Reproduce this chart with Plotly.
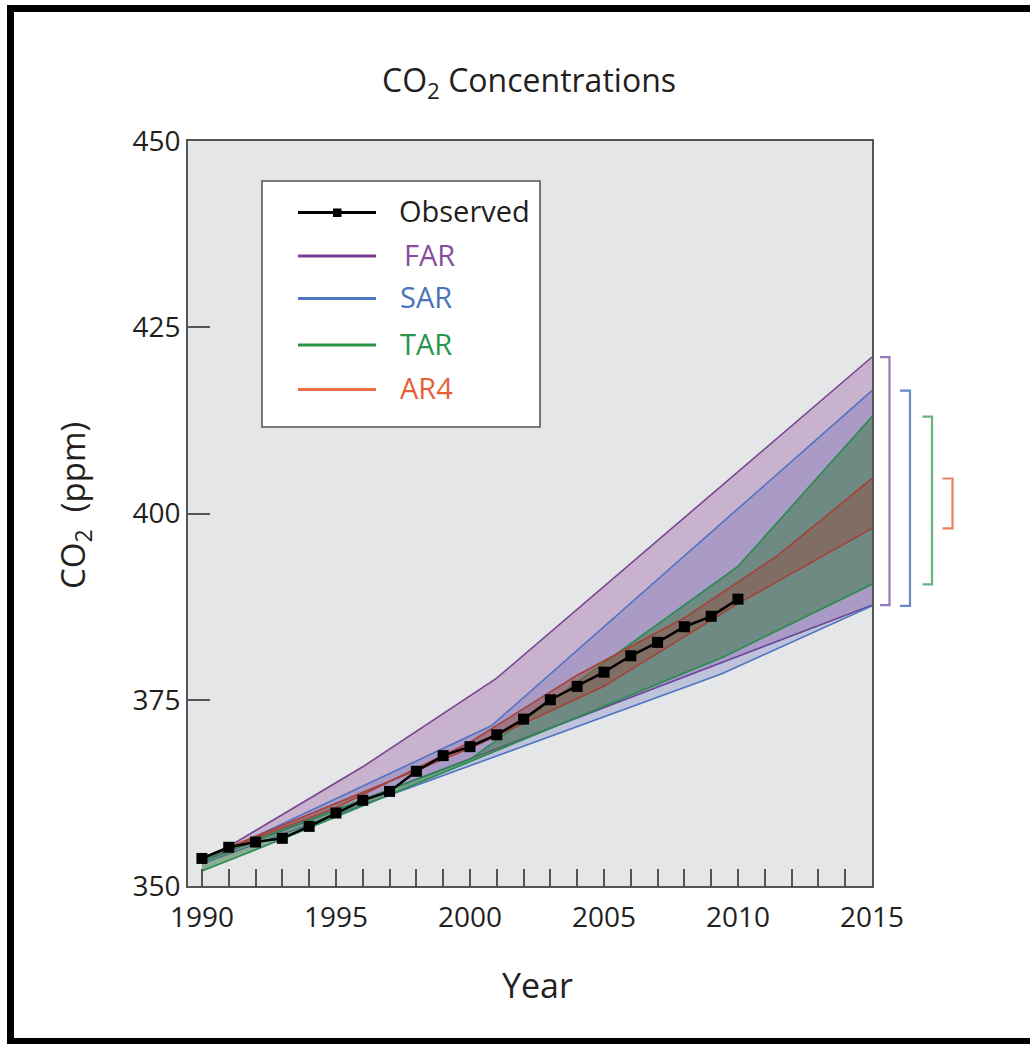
import plotly.graph_objects as go

# Observed annual mean CO2 (ppm)
obs_years = list(range(1990, 2011))
obs_co2 = [353.7, 355.2, 355.9, 356.4, 358.0, 359.8, 361.5, 362.7, 365.4, 367.5, 368.7,
           370.3, 372.4, 375.0, 376.8, 378.7, 380.9, 382.7, 384.8, 386.2, 388.5]

# Projected ranges from the four assessment reports (upper / lower envelopes)
far_up_x = [1990, 1991, 1996, 2001, 2015]
far_up = [353.7, 355.3, 366.0, 377.9, 421.0]
far_lo_x = [1990, 2015]
far_lo = [353.3, 387.7]

sar_up_x = [1990, 2000.8, 2015]
sar_up = [353.3, 371.5, 416.5]
sar_lo_x = [1990, 2009.4, 2015]
sar_lo = [353.0, 378.5, 387.6]

tar_up_x = [1990, 2000, 2010, 2015]
tar_up = [353.5, 367.0, 392.9, 413.0]
tar_lo_x = [1990, 1993, 2009.5, 2015]
tar_lo = [352.0, 356.3, 380.8, 390.5]

ar4_up_x = [1990, 1995, 2000, 2004, 2008, 2011.5, 2015]
ar4_up = [353.7, 360.5, 369.3, 378.3, 386.0, 394.4, 404.7]
ar4_lo_x = [1990, 2000, 2005, 2008, 2010, 2015]
ar4_lo = [353.7, 368.5, 376.8, 383.5, 387.9, 398.0]

report_names = ["FAR", "SAR", "TAR", "AR4"]

FONT = "Open Sans"
TXT = "#231f20"

bands = [
    dict(name="FAR", ux=far_up_x, uy=far_up, lx=far_lo_x, ly=far_lo,
         fill="rgba(160,100,170,0.40)", line="rgb(120,70,145)",
         key="rgb(125,60,150)", text="rgb(135,75,160)", bracket="rgb(155,120,185)", bx=(880, 889.5)),
    dict(name="SAR", ux=sar_up_x, uy=sar_up, lx=sar_lo_x, ly=sar_lo,
         fill="rgba(55,70,175,0.22)", line="rgb(80,115,195)",
         key="rgb(80,120,190)", text="rgb(75,115,185)", bracket="rgb(105,135,205)", bx=(900, 910)),
    dict(name="TAR", ux=tar_up_x, uy=tar_up, lx=tar_lo_x, ly=tar_lo,
         fill="rgba(64,124,76,0.55)", line="rgb(40,140,80)",
         key="rgb(40,150,70)", text="rgb(40,150,75)", bracket="rgb(105,180,125)", bx=(922.5, 932)),
    dict(name="AR4", ux=ar4_up_x, uy=ar4_up, lx=ar4_lo_x, ly=ar4_lo,
         fill="rgba(145,82,68,0.50)", line="rgb(165,65,55)",
         key="rgb(235,110,70)", text="rgb(230,95,55)", bracket="rgb(232,130,95)", bx=(942.5, 952.5)),
]

fig = go.Figure()

for b in bands:
    fig.add_trace(go.Scatter(
        x=b["ux"] + b["lx"][::-1], y=b["uy"] + b["ly"][::-1],
        mode="lines", fill="toself", fillcolor=b["fill"],
        line=dict(width=0), hoverinfo="skip", showlegend=False))
    for xs, ys in ((b["ux"], b["uy"]), (b["lx"], b["ly"])):
        fig.add_trace(go.Scatter(
            x=xs, y=ys, mode="lines", line=dict(color=b["line"], width=1.6),
            name=b["name"], showlegend=False))

fig.add_trace(go.Scatter(
    x=obs_years, y=obs_co2, mode="lines+markers", name="Observed",
    line=dict(color="black", width=2.5),
    marker=dict(symbol="square", size=11, color="black"),
    showlegend=False))

# Pixel geometry of the plotting area
W, H = 1030, 1044
L, R, T, B = 188, 872, 141, 886
PW, PH = R - L, B - T


def px(x):
    return (x - L) / PW


def py(y):
    return (B - y) / PH


shapes = []
annotations = []

# Frame around the page (top, left, bottom)
for x0, y0, x1, y1 in [(7, 5, 1030, 12), (7, 5, 14, 1044), (7, 1038, 1030, 1044)]:
    shapes.append(dict(type="rect", xref="paper", yref="paper",
                       x0=px(x0), x1=px(x1), y0=py(y0), y1=py(y1),
                       fillcolor="black", line=dict(width=0), layer="above"))

# Range brackets at 2015 for each report
for b in bands:
    xs, xv = b["bx"]
    top, bot = b["uy"][-1], b["ly"][-1]
    path = (f"M {px(xs)},{top} L {px(xv)},{top} L {px(xv)},{bot} L {px(xs)},{bot}")
    shapes.append(dict(type="path", xref="paper", yref="y", path=path,
                       line=dict(color=b["bracket"], width=2.2)))

# Legend box
shapes.append(dict(type="rect", xref="paper", yref="paper",
                   x0=px(262), x1=px(540), y0=py(427), y1=py(181),
                   fillcolor="white", line=dict(color="#555", width=1.6), layer="above"))

rows = [("Observed", "black", TXT, 212.5, 397),
        ("FAR", bands[0]["key"], bands[0]["text"], 256, 402),
        ("SAR", bands[1]["key"], bands[1]["text"], 298.5, 398),
        ("TAR", bands[2]["key"], bands[2]["text"], 345, 398),
        ("AR4", bands[3]["key"], bands[3]["text"], 389.5, 398)]
for label, kc, tc, yy, tx in rows:
    shapes.append(dict(type="line", xref="paper", yref="paper",
                       x0=px(298), x1=px(376), y0=py(yy), y1=py(yy),
                       line=dict(color=kc, width=2.8), layer="above"))
    annotations.append(dict(text=label, xref="paper", yref="paper",
                            x=px(tx), y=py(yy - 2), xanchor="left", yanchor="middle",
                            showarrow=False, font=dict(family=FONT, size=29, color=tc)))
shapes.append(dict(type="rect", xref="paper", yref="paper",
                   x0=px(333), x1=px(341.5), y0=py(217), y1=py(208.5),
                   fillcolor="black", line=dict(width=0), layer="above"))

# Titles
annotations.append(dict(text="CO<sub>2</sub> Concentrations", xref="paper", yref="paper",
                        x=px(529), y=py(82), xanchor="center", yanchor="middle",
                        showarrow=False, font=dict(family=FONT, size=32, color=TXT)))
annotations.append(dict(text="CO<sub>2</sub>  (ppm)", xref="paper", yref="paper",
                        x=px(75), y=py(506), xanchor="center", yanchor="middle", textangle=-90,
                        showarrow=False, font=dict(family=FONT, size=33, color=TXT)))
annotations.append(dict(text="Year", xref="paper", yref="paper",
                        x=px(537), y=py(985), xanchor="center", yanchor="middle",
                        showarrow=False, font=dict(family=FONT, size=34, color=TXT)))

axis_common = dict(showgrid=False, zeroline=False, showline=True, mirror=True,
                   linecolor="#555", linewidth=1.6, ticks="inside", tickwidth=1.6,
                   tickcolor="#555", tickfont=dict(family=FONT, size=28, color=TXT))

fig.update_layout(
    width=W, height=H,
    margin=dict(l=L, r=W - R, t=T, b=H - B, pad=0),
    paper_bgcolor="white", plot_bgcolor="#e4e6e7",
    showlegend=False,
    xaxis=dict(range=[1989.48, 2015], tickvals=[1990, 1995, 2000, 2005, 2010, 2015],
               ticklen=17, ticklabelstandoff=6,
               minor=dict(dtick=1, tick0=1990, ticks="inside", ticklen=17,
                          tickwidth=1.6, tickcolor="#555"),
               **axis_common),
    yaxis=dict(range=[350, 450], tickvals=[350, 375, 400, 425, 450], ticklen=22,
               **axis_common),
    shapes=shapes, annotations=annotations,
)

fig.write_html("out.html")
